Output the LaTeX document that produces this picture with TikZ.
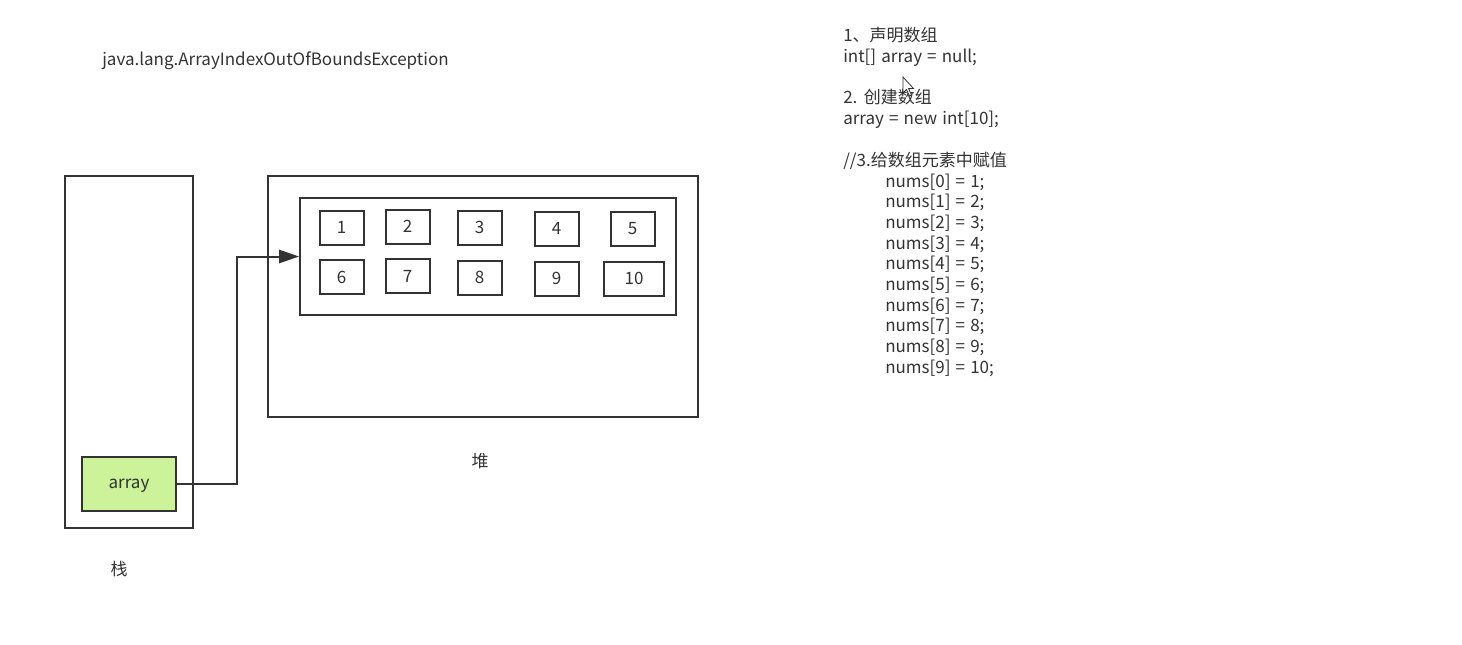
\documentclass[tikz,border=0pt]{standalone}
\usepackage{fontspec}
\setmainfont[WordSpace=1.35]{Noto Sans CJK SC}
\usetikzlibrary{arrows.meta}
\definecolor{ink}{HTML}{333333}
\definecolor{leaf}{HTML}{CCF29A}
\begin{document}
\begin{tikzpicture}[x=0.75pt,y=-0.75pt,
  frame/.style={draw=ink,line width=1.5pt,rectangle,inner sep=0pt},
  cell/.style={frame,minimum width=33pt,minimum height=25.5pt,font=\fontsize{12.75}{15}\selectfont,text=ink},
  txt/.style={anchor=base west,inner sep=0pt,text=ink,font=\fontsize{12.75}{15}\selectfont},
  lbl/.style={inner sep=0pt,text=ink,font=\fontsize{12.75}{15}\selectfont}]
\useasboundingbox[fill=white] (0,0) rectangle (1462,644);
% stack
\node[frame,minimum width=96pt,minimum height=264pt] (stack) at (129,352) {};
\node[frame,fill=leaf,minimum width=70.5pt,minimum height=40.5pt,text=ink,text depth=0pt,font=\fontsize{12.75}{15}\selectfont] (arr) at (129,484) {array};
\node[lbl] (stacklbl) at (119,569) {栈};
% heap
\node[frame,minimum width=322.5pt,minimum height=180.75pt] (heap) at (483,296.5) {};
\node[frame,minimum width=282pt,minimum height=87.75pt] (inner) at (488,256.5) {};
\node[lbl] (heaplbl) at (480,461) {堆};
% cells
\node[cell] (c1) at (341.5,227.5) {1};
\node[cell] (c2) at (407.5,226.5) {2};
\node[cell] (c3) at (479.5,227.5) {3};
\node[cell] (c4) at (556.5,228.5) {4};
\node[cell] (c5) at (632.5,228.5) {5};
\node[cell] (c6) at (341.5,277) {6};
\node[cell] (c7) at (407.5,276) {7};
\node[cell] (c8) at (479.5,277.5) {8};
\node[cell] (c9) at (556.5,278.5) {9};
\node[cell,minimum width=45pt] (c10) at (634,278.5) {10};
% connector
\coordinate (bend) at (237,484);
\draw[draw=ink,line width=1.5pt,-{Triangle[length=15pt,width=10pt]}] (arr.east) -- (bend) |- (inner.west);
% exception
\node[txt] (exc) at (102,65) {java.lang.ArrayIndexOutOfBoundsException};
% code text
\node[txt] (t1) at (843,41) {1、声明数组};
\node[txt] (t2) at (843,62) {int[] array = null;};
\node[txt] (t3) at (843,103) {2. 创建数组};
\node[txt] (t4) at (843,124) {array = new int[10];};
\node[txt] (t5) at (843,166) {//3.给数组元素中赋值};
\foreach \i/\v [count=\k from 0] in {0/1,1/2,2/3,3/4,4/5,5/6,6/7,7/8,8/9,9/10}{
  \node[txt] (n\i) at (885,187+20.67*\k) {nums[\i] = \v;};
}
% mouse cursor
\draw[ink,line width=0.6pt,fill=white] (903,77) -- (903,93) -- (906.5,89.5) -- (909.5,96) -- (911.5,95) -- (908.5,88.5) -- (913.5,88.5) -- cycle;
\end{tikzpicture}
\end{document}
